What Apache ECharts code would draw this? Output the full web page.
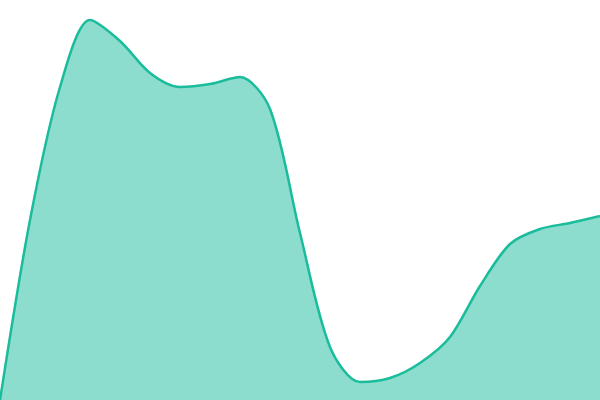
<!DOCTYPE html>
<html>
<head>
<meta charset="utf-8">
<script src="https://cdn.jsdelivr.net/npm/echarts@6/dist/echarts.min.js"></script>
<style>html,body{margin:0;padding:0;background:#fff}#c{width:600px;height:400px}</style>
</head>
<body>
<div id="c"></div>
<script>
var categories = ['1','2','3','4','5','6','7','8','9','10','11','12','13','14','15','16','17','18','19','20','21'];
var values = [0, 180, 313, 380, 359, 327, 313, 316, 323, 291, 167, 53, 18, 22, 37, 63, 114, 156, 171, 177, 184];
var yMin = 0, yMax = 400;

var chart = echarts.init(document.getElementById('c'));
chart.setOption({
  animation: false,
  grid: {left: 0, right: 0, top: 0, bottom: 0},
  xAxis: {type: 'category', data: categories, boundaryGap: false, show: false},
  yAxis: {type: 'value', min: yMin, max: yMax, show: false},
  series: [{
    type: 'line',
    data: values,
    smooth: 0.3,
    symbol: 'none',
    lineStyle: {color: '#1abc9c', width: 2.5},
    areaStyle: {color: '#1abc9c', opacity: 0.5}
  }]
});
</script>
</body>
</html>
